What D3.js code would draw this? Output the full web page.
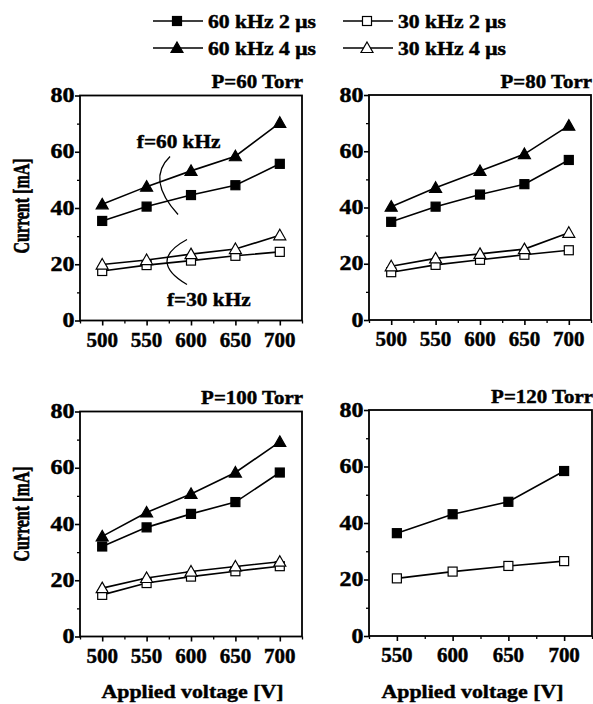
<!DOCTYPE html>
<html><head><meta charset="utf-8">
<script src="https://cdn.jsdelivr.net/npm/d3@7"></script>
<style>
html,body{margin:0;padding:0;background:#fff;}
svg{display:block;}
</style></head>
<body>
<svg id="chart" width="593" height="704"></svg>
<script>
// ---------- data ----------
const voltages = [500, 550, 600, 650, 700];
const voltages120 = [550, 600, 650, 700];
const yTicks = [0, 20, 40, 60, 80];
const seriesNames = ["60 kHz 2 μs", "60 kHz 4 μs", "30 kHz 2 μs", "30 kHz 4 μs"];
const panelTitles = ["P=60 Torr", "P=80 Torr", "P=100 Torr", "P=120 Torr"];

const p60_60k2 = [35.4, 40.5, 44.6, 48.1, 55.7];
const p60_60k4 = [41.3, 47.6, 53.2, 58.4, 70.3];
const p60_30k2 = [17.6, 19.7, 21.3, 23.0, 24.4];
const p60_30k4 = [19.9, 21.5, 23.6, 25.4, 30.3];

const p80_60k2 = [34.9, 40.3, 44.6, 48.3, 56.9];
const p80_60k4 = [40.3, 47.0, 53.0, 59.0, 69.1];
const p80_30k2 = [17.0, 19.6, 21.4, 23.2, 24.8];
const p80_30k4 = [19.1, 21.9, 23.5, 25.2, 31.0];

const p100_60k2 = [32.0, 38.8, 43.6, 47.8, 58.3];
const p100_60k4 = [35.6, 44.1, 50.7, 58.3, 69.2];
const p100_30k2 = [14.8, 19.0, 21.3, 23.2, 25.0];
const p100_30k4 = [17.2, 20.8, 23.1, 24.9, 26.6];

const p120_60k2 = [36.4, 43.1, 47.5, 58.4];
const p120_30k2 = [20.4, 22.8, 24.8, 26.5];

// annotation labels (data units of the P=60 Torr panel)
const annot60 = {text: "f=60 kHz", x: 539, y: 61.5, arc: [[576.4, 58.3], [549.3, 50.1], [585.4, 37.7]]};
const annot30 = {text: "f=30 kHz", x: 573, y: 5.0, arc: [[595.5, 28.8], [550.5, 21.2], [595.5, 12.8]]};

// ---------- layout ----------
const FONT = '"Liberation Serif","Times New Roman",Tinos,serif';
const svg = d3.select("#chart");
const panels = [
  {x0: 80, x1: 302, y0: 95.5, y1: 320.5, dom: [475, 725], xt: voltages, title: panelTitles[0],
   series: [[p60_60k2, 0], [p60_60k4, 1], [p60_30k2, 2], [p60_30k4, 3]], xv: voltages, ylab: true, ylabY: 206, annot: true},
  {x0: 369, x1: 591, y0: 95, y1: 320, dom: [475, 725], xt: voltages, title: panelTitles[1],
   series: [[p80_60k2, 0], [p80_60k4, 1], [p80_30k2, 2], [p80_30k4, 3]], xv: voltages},
  {x0: 80, x1: 302, y0: 411.5, y1: 636.5, dom: [475, 725], xt: voltages, title: panelTitles[2],
   series: [[p100_60k2, 0], [p100_60k4, 1], [p100_30k2, 2], [p100_30k4, 3]], xv: voltages, ylab: true, ylabY: 514, xlab: 192.5},
  {x0: 369, x1: 592, y0: 410, y1: 636, dom: [525, 725], xt: voltages120, title: panelTitles[3],
   series: [[p120_60k2, 0], [p120_30k2, 2]], xv: voltages120, xlab: 472.5}
];

function txt(g, x, y, s, size, anchor, sx, rot) {
  return g.append("text")
    .attr("transform", `translate(${x},${y}) scale(${sx},1)` + (rot ? ` rotate(${rot})` : ""))
    .attr("text-anchor", anchor)
    .style("font-family", FONT)
    .style("font-weight", "bold")
    .style("font-size", size + "px")
    .attr("fill", "#000")
    .attr("stroke", "#000")
    .attr("stroke-width", 0.45)
    .text(s);
}

function marker(g, type, x, y) {
  const filled = type < 2;
  const isTri = type % 2 === 1;
  let p;
  if (isTri) {
    p = g.append("path").attr("d", `M${x},${y - 6}L${x + 6},${y + 4.5}L${x - 6},${y + 4.5}Z`);
  } else {
    p = g.append("rect").attr("x", x - 4.5).attr("y", y - 4.5).attr("width", 9).attr("height", 9);
  }
  p.attr("fill", filled ? "#000" : "#fff").attr("stroke", "#000").attr("stroke-width", 1.2);
}

panels.forEach(P => {
  const g = svg.append("g");
  const x = d3.scaleLinear().domain(P.dom).range([P.x0, P.x1]);
  const y = d3.scaleLinear().domain([0, 80]).range([P.y1, P.y0]);

  // minor ticks
  const xMinor = d3.range(P.dom[0], P.dom[1] + 1, 25).filter(v => !P.xt.includes(v));
  const yMinor = [10, 30, 50, 70];
  g.append("g").attr("transform", `translate(0,${P.y1})`)
    .call(d3.axisBottom(x).tickValues(xMinor).tickSize(3).tickFormat(""))
    .call(a => a.select(".domain").remove())
    .call(a => a.selectAll("line").attr("stroke-width", 1.3));
  g.append("g").attr("transform", `translate(${P.x0},0)`)
    .call(d3.axisLeft(y).tickValues(yMinor).tickSize(3).tickFormat(""))
    .call(a => a.select(".domain").remove())
    .call(a => a.selectAll("line").attr("stroke-width", 1.3));

  // major ticks
  const xa = g.append("g").attr("transform", `translate(0,${P.y1})`)
    .call(d3.axisBottom(x).tickValues(P.xt).tickSize(5).tickFormat(""));
  xa.select(".domain").remove();
  xa.selectAll("line").attr("stroke-width", 1.6);
  const ya = g.append("g").attr("transform", `translate(${P.x0},0)`)
    .call(d3.axisLeft(y).tickValues(yTicks).tickSize(5).tickFormat(""));
  ya.select(".domain").remove();
  ya.selectAll("line").attr("stroke-width", 1.6);

  // tick labels
  P.xt.forEach(v => txt(g, x(v), P.y1 + 26, d3.format("d")(v), 20, "middle", 1.05));
  yTicks.forEach(v => txt(g, P.x0 - 5.5, y(v) + 6.5, d3.format("d")(v), 20, "end", 1.2));

  // frame
  g.append("rect").attr("x", P.x0).attr("y", P.y0).attr("width", P.x1 - P.x0).attr("height", P.y1 - P.y0)
    .attr("fill", "none").attr("stroke", "#000").attr("stroke-width", 1.8);

  // title
  txt(g, P.x1 + 1, P.y0 - 7.5, P.title, 19, "end", 1.1);

  // series
  const line = d3.line().x((d, i) => x(P.xv[i])).y(d => y(d));
  P.series.forEach(([vals]) => {
    g.append("path").attr("d", line(vals)).attr("fill", "none").attr("stroke", "#000").attr("stroke-width", 1.6);
  });
  P.series.forEach(([vals, type]) => {
    vals.forEach((v, i) => marker(g, type, x(P.xv[i]), y(v)));
  });

  if (P.ylab) txt(g, 29, P.ylabY, "Current [mA]", 16, "middle", 1.38, -90);
  if (P.xlab) txt(g, P.xlab, 698, "Applied voltage [V]", 19, "middle", 1.15);

  if (P.annot) {
    [annot60, annot30].forEach(a => {
      txt(g, x(a.x), y(a.y), a.text, 19, "start", 1.12);
      const [p0, c, p1] = a.arc;
      const path = d3.path();
      path.moveTo(x(p0[0]), y(p0[1]));
      path.quadraticCurveTo(x(c[0]), y(c[1]), x(p1[0]), y(p1[1]));
      g.append("path").attr("d", path.toString()).attr("fill", "none").attr("stroke", "#000").attr("stroke-width", 1.3);
    });
  }
});

// ---------- legend ----------
const legendPos = [[153, 21], [153, 48], [343, 21], [343, 48]];
const lg = svg.append("g");
seriesNames.forEach((name, i) => {
  const [lx, ly] = legendPos[i];
  lg.append("line").attr("x1", lx).attr("x2", lx + 50).attr("y1", ly).attr("y2", ly)
    .attr("stroke", "#000").attr("stroke-width", 1.6);
  marker(lg, i, lx + 24, ly);
  txt(lg, lx + 55, ly + 6.5, name, 19, "start", 1.14);
});
</script>
</body></html>
